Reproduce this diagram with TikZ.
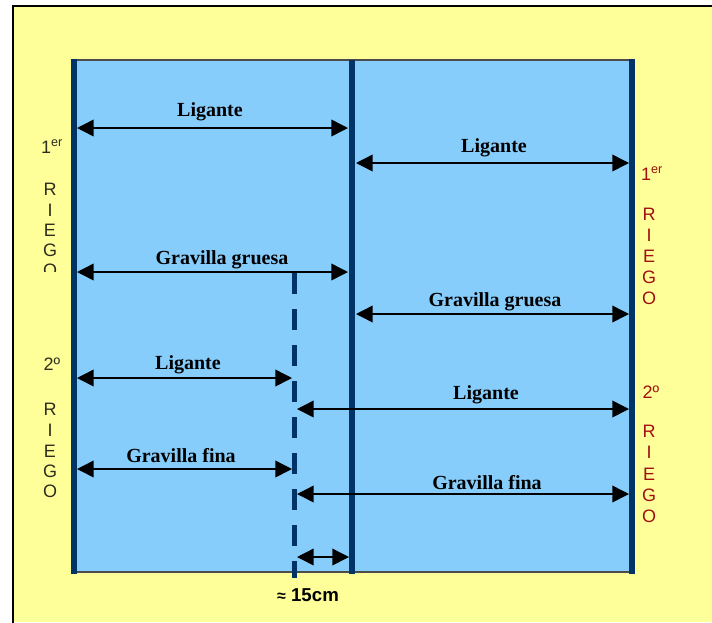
\documentclass[tikz,border=0pt]{standalone}
\usepackage{fontspec}
\setmainfont{Liberation Serif}
\newfontfamily\lsans{Liberation Sans}
\usetikzlibrary{arrows.meta}
\definecolor{bgyellow}{RGB}{255,255,153}
\definecolor{lightblue}{RGB}{135,205,252}
\definecolor{navyseam}{RGB}{0,51,102}
\definecolor{riegored}{RGB}{160,16,16}
\definecolor{riegodark}{RGB}{45,45,30}
\begin{document}
\begin{tikzpicture}[x=0.75pt,y=-0.75pt,
  seam/.style={navyseam,line width=4.5pt},
  dashseam/.style={navyseam,line width=3.75pt,dash pattern=on 15.75pt off 11.25pt},
  dimarrow/.style={{Triangle[length=12.5pt,width=12.5pt]}-{Triangle[length=12.5pt,width=12.5pt]},line width=1.1pt,black},
  lbl/.style={font=\bfseries\fontsize{15}{18}\selectfont,anchor=base,inner sep=0pt},
  riego/.style={font=\lsans\fontsize{13.5}{16}\selectfont,anchor=base,inner sep=0pt},
  riegoL/.style={riego,text=riegodark},
  riegoR/.style={riego,text=riegored},
]
\useasboundingbox (0,0) rectangle (712,622);
% background
\fill[white] (0,0) rectangle (712,622);
\fill[bgyellow] (13,6) rectangle (712,622);
\draw[black,line width=1.4pt] (13,625) -- (13,6) -- (715,6);
% blue area
\draw[fill=lightblue,draw=black!70,line width=1.1pt] (72,60) rectangle (632,572);
% seams
\draw[seam] (74,59) -- (74,574);
\draw[seam] (352,60) -- (352,574);
\draw[seam] (632,59) -- (632,574);
\draw[dashseam] (294,273) -- (294,578);
% arrow end points
\coordinate (l1a) at (77,128);  \coordinate (l1b) at (348,128);
\coordinate (r1a) at (356,163); \coordinate (r1b) at (629,163);
\coordinate (l2a) at (77,272);  \coordinate (l2b) at (348,272);
\coordinate (r2a) at (356,314); \coordinate (r2b) at (629,314);
\coordinate (l3a) at (77,378);  \coordinate (l3b) at (292,378);
\coordinate (r3a) at (297,409); \coordinate (r3b) at (629,409);
\coordinate (l4a) at (77,469);  \coordinate (l4b) at (292,469);
\coordinate (r4a) at (297,494); \coordinate (r4b) at (629,494);
\coordinate (dma) at (297,557); \coordinate (dmb) at (349,557);
\draw[dimarrow] (l1a) -- (l1b);
\draw[dimarrow] (r1a) -- (r1b);
\draw[dimarrow] (l2a) -- (l2b);
\draw[dimarrow] (r2a) -- (r2b);
\draw[dimarrow] (l3a) -- (l3b);
\draw[dimarrow] (r3a) -- (r3b);
\draw[dimarrow] (l4a) -- (l4b);
\draw[dimarrow] (r4a) -- (r4b);
\draw[dimarrow] (dma) -- (dmb);
% labels
\node[lbl] (t1) at (210,116) {Ligante};
\node[lbl] (t2) at (494,152) {Ligante};
\node[lbl] (t3) at (222,264) {Gravilla gruesa};
\node[lbl] (t4) at (495,306) {Gravilla gruesa};
\node[lbl] (t5) at (188,369) {Ligante};
\node[lbl] (t6) at (486,399) {Ligante};
\node[lbl] (t7) at (181,462) {Gravilla fina};
\node[lbl] (t8) at (487,489) {Gravilla fina};
\node[font=\lsans\bfseries\fontsize{14}{16}\selectfont,anchor=base,inner sep=0pt] (dim) at (308,601) {{\fontsize{12}{14}\selectfont ≈} 15cm};
% left first riego
\begin{scope}
\clip (14,100) rectangle (71,271);
\node[riegoL] (a0) at (52,153) {1\textsuperscript{er}};
\node[riegoL] (a1) at (50,195) {R};
\node[riegoL] (a2) at (50,216) {I};
\node[riegoL] (a3) at (50,236) {E};
\node[riegoL] (a4) at (50,256) {G};
\node[riegoL] (a5) at (50,276) {O};
\end{scope}
% left second riego
\node[riegoL] (b0) at (52,370) {2º};
\node[riegoL] (b1) at (50,415) {R};
\node[riegoL] (b2) at (50,436) {I};
\node[riegoL] (b3) at (50,457) {E};
\node[riegoL] (b4) at (50,477) {G};
\node[riegoL] (b5) at (50,497) {O};
% right first riego
\node[riegoR] (c0) at (652,180) {1\textsuperscript{er}};
\node[riegoR] (c1) at (649,220) {R};
\node[riegoR] (c2) at (649,241) {I};
\node[riegoR] (c3) at (649,262) {E};
\node[riegoR] (c4) at (649,283) {G};
\node[riegoR] (c5) at (649,304) {O};
% right second riego
\node[riegoR] (d0) at (651,398) {2º};
\node[riegoR] (d1) at (649,437) {R};
\node[riegoR] (d2) at (649,458) {I};
\node[riegoR] (d3) at (649,480) {E};
\node[riegoR] (d4) at (649,501) {G};
\node[riegoR] (d5) at (649,522) {O};
\end{tikzpicture}
\end{document}
